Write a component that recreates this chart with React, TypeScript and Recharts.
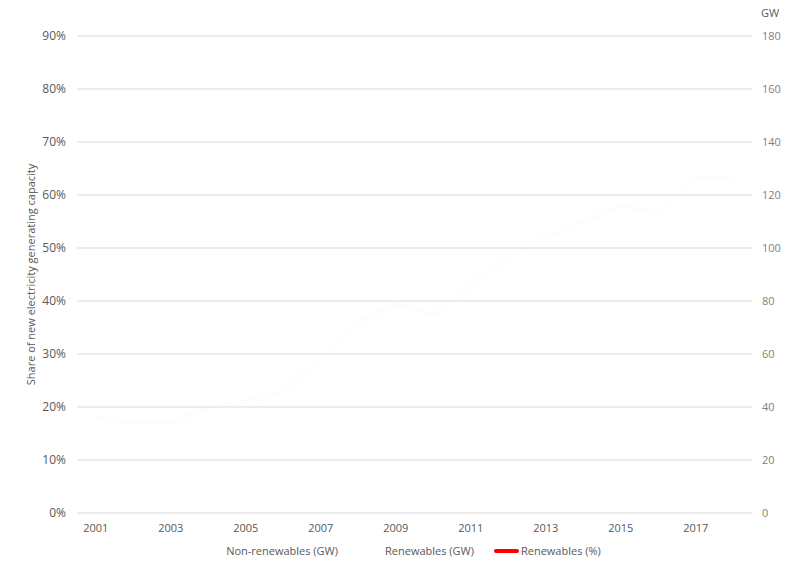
import {
  Bar,
  CartesianGrid,
  ComposedChart,
  Legend,
  Line,
  XAxis,
  YAxis,
} from "recharts";

const years = [
  "2001", "2002", "2003", "2004", "2005", "2006", "2007", "2008", "2009",
  "2010", "2011", "2012", "2013", "2014", "2015", "2016", "2017", "2018",
];
const nonRenewablesGW = [90, 100, 108, 112, 120, 125, 118, 106, 100, 110, 106, 96, 90, 86, 82, 92, 98, 100];
const renewablesGW = [20, 21, 22, 28, 32, 37, 48, 60, 65, 66, 80, 88, 98, 105, 113, 121, 169, 171];
const renewablesPct = [0.18, 0.17, 0.17, 0.2, 0.21, 0.23, 0.29, 0.36, 0.395, 0.374, 0.43, 0.48, 0.52, 0.55, 0.58, 0.567, 0.633, 0.63];
const pctTicks = [0, 0.1, 0.2, 0.3, 0.4, 0.5, 0.6, 0.7, 0.8, 0.9];
const gwTicks = [0, 20, 40, 60, 80, 100, 120, 140, 160, 180];

const data = years.map((year, i) => ({
  year,
  nonRenewables: nonRenewablesGW[i],
  renewables: renewablesGW[i],
  pct: renewablesPct[i],
}));

const FONT = "'Open Sans', sans-serif";
const TEXT = "#595959";
const GRID = "#d9d9d9";

function LegendRow() {
  const items = [
    { name: "Non-renewables (GW)", color: "transparent" },
    { name: "Renewables (GW)", color: "transparent" },
    { name: "Renewables (%)", color: "#ff0000" },
  ];
  return (
    <div
      style={{
        display: "flex",
        justifyContent: "center",
        gap: 20,
        fontFamily: FONT,
        fontSize: 11,
        color: TEXT,
      }}
    >
      {items.map((it) => (
        <div key={it.name} style={{ display: "flex", alignItems: "center", gap: 2 }}>
          <span
            style={{
              display: "inline-block",
              width: 25,
              height: 4,
              borderRadius: 2,
              background: it.color,
            }}
          />
          <span>{it.name}</span>
        </div>
      ))}
    </div>
  );
}

export default function App() {
  return (
    <div style={{ position: "absolute", left: 0, top: 0, width: 800, height: 571, background: "#fff" }}>
      <ComposedChart
        width={800}
        height={571}
        data={data}
        barGap={0}
        barCategoryGap="25%"
        margin={{ top: 36, right: 0, bottom: 0, left: 0 }}
      >
        <CartesianGrid vertical={false} stroke={GRID} strokeWidth={1.2} yAxisId="left" />
        <XAxis
          dataKey="year"
          interval={1}
          axisLine={false}
          tickLine={false}
          tickSize={0}
          tickMargin={11}
          height={30}
          tick={{ fontSize: 11, fill: TEXT, fontFamily: FONT }}
        />
        <YAxis
          yAxisId="left"
          orientation="left"
          width={77}
          domain={[0, 0.9]}
          ticks={pctTicks}
          interval={0}
          tickFormatter={(v: number) => `${Math.round(v * 100)}%`}
          axisLine={false}
          tickLine={false}
          tickSize={0}
          tickMargin={11}
          tick={{ fontSize: 12, fill: TEXT, fontFamily: FONT }}
          label={{
            value: "Share of new electricity generating capacity",
            angle: -90,
            position: "insideLeft",
            offset: 31,
            style: { fontSize: 11, fill: TEXT, fontFamily: FONT, textAnchor: "middle" },
          }}
        />
        <YAxis
          yAxisId="right"
          orientation="right"
          width={48}
          domain={[0, 180]}
          ticks={gwTicks}
          interval={0}
          axisLine={false}
          tickLine={false}
          tickSize={0}
          tickMargin={10}
          tick={{ fontSize: 11, fill: "#7f7f7f", fontFamily: FONT }}
          label={{
            value: "GW",
            position: "top",
            offset: 19,
            dx: -6,
            style: { fontSize: 11, fill: TEXT, fontFamily: FONT },
          }}
        />
        <Legend verticalAlign="bottom" height={28} content={() => <LegendRow />} />
        <Bar
          yAxisId="right"
          dataKey="nonRenewables"
          name="Non-renewables (GW)"
          fill="#ffffff"
          fillOpacity={0}
          isAnimationActive={false}
        />
        <Bar
          yAxisId="right"
          dataKey="renewables"
          name="Renewables (GW)"
          fill="#ffffff"
          fillOpacity={0}
          isAnimationActive={false}
        />
        <Line
          yAxisId="left"
          dataKey="pct"
          name="Renewables (%)"
          type="linear"
          stroke="#eadcc6"
          strokeOpacity={0.05}
          strokeWidth={5}
          strokeLinecap="round"
          dot={false}
          activeDot={false}
          isAnimationActive={false}
        />
      </ComposedChart>
    </div>
  );
}
